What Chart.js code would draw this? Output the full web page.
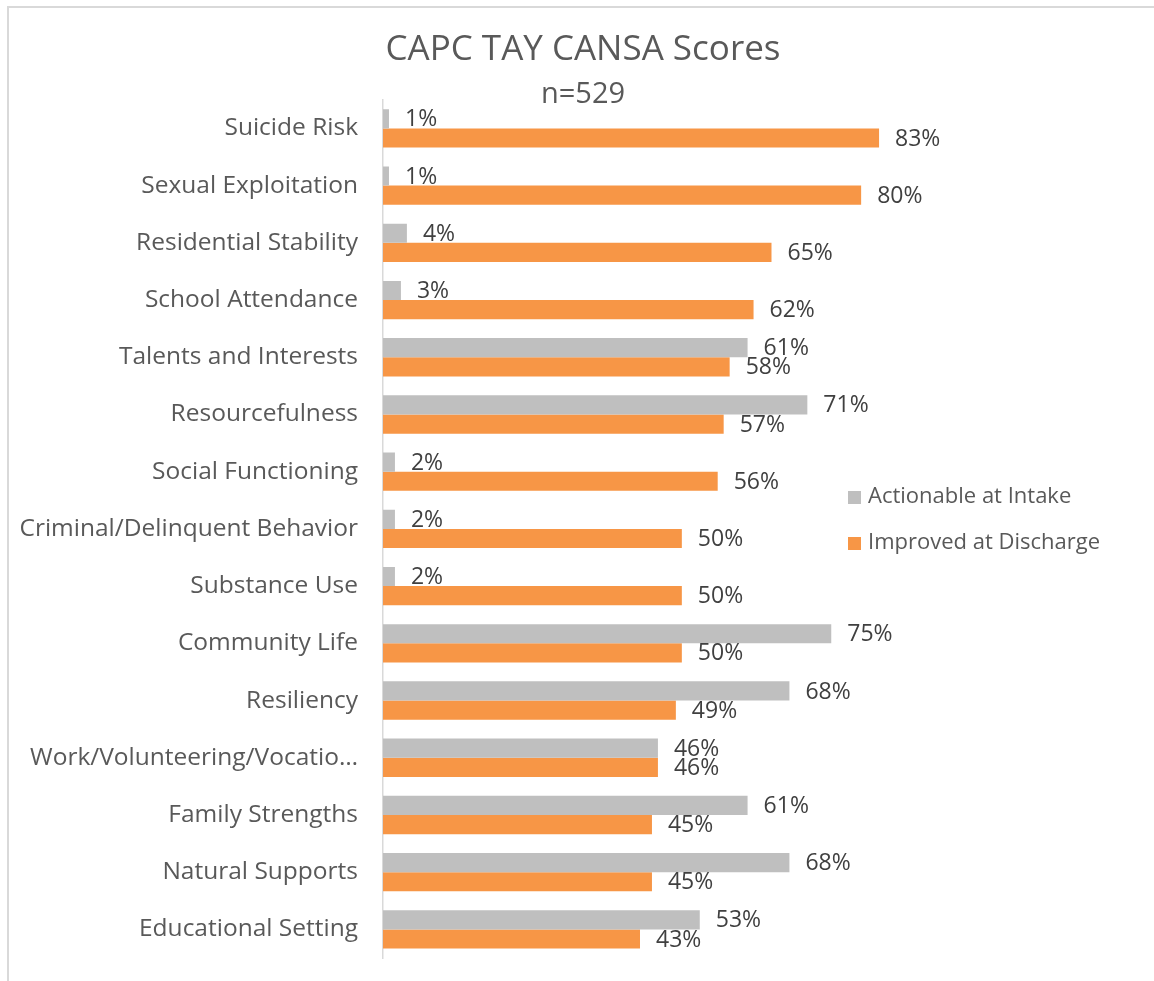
<!DOCTYPE html>
<html>
<head>
<meta charset="utf-8">
<script src="https://cdn.jsdelivr.net/npm/chart.js@4.4.1/dist/chart.umd.min.js"></script>
<style>
  html, body { margin: 0; padding: 0; background: #fff; overflow: hidden; }
  #wrap { position: relative; width: 1154px; height: 981px; overflow: hidden; }
  #frame { position: absolute; left: 7px; top: 6px; right: -4px; bottom: -4px; border-left: 2px solid #d9d9d9; border-top: 2px solid #d9d9d9; }
  canvas { position: absolute; left: 0; top: 0; }
</style>
</head>
<body>
<div id="wrap">
  <div id="frame"></div>
  <canvas id="cansaChart" width="1154" height="981"></canvas>
</div>
<script>
const categories = [
  'Suicide Risk', 'Sexual Exploitation', 'Residential Stability', 'School Attendance',
  'Talents and Interests', 'Resourcefulness', 'Social Functioning',
  'Criminal/Delinquent Behavior', 'Substance Use', 'Community Life', 'Resiliency',
  'Work/Volunteering/Vocatio\u2026', 'Family Strengths', 'Natural Supports', 'Educational Setting'
];
const actionableAtIntake = [1, 1, 4, 3, 61, 71, 2, 2, 2, 75, 68, 46, 61, 68, 53];
const improvedAtDischarge = [83, 80, 65, 62, 58, 57, 56, 50, 50, 50, 49, 46, 45, 45, 43];
const seriesNames = ['Actionable at Intake', 'Improved at Discharge'];

const FONT = '"Open Sans", "Liberation Sans", sans-serif';

// value labels at the end of each bar
const barLabels = {
  id: 'barLabels',
  afterDatasetsDraw(chart) {
    const ctx = chart.ctx;
    ctx.save();
    ctx.font = '23px ' + FONT;
    ctx.fillStyle = '#404040';
    ctx.textAlign = 'left';
    ctx.textBaseline = 'middle';
    chart.data.datasets.forEach((ds, i) => {
      chart.getDatasetMeta(i).data.forEach((bar, j) => {
        ctx.fillText(ds.data[j] + '%', bar.x + 16, bar.y + 1);
      });
    });
    ctx.restore();
  }
};

// legend placed inside the plot, right side
const sideLegend = {
  id: 'sideLegend',
  afterDraw(chart) {
    const ctx = chart.ctx;
    ctx.save();
    ctx.font = '22px ' + FONT;
    ctx.textBaseline = 'middle';
    chart.data.datasets.forEach((ds, i) => {
      const y = 497 + i * 46;
      ctx.fillStyle = ds.backgroundColor;
      ctx.fillRect(848, y - 6, 13, 13);
      ctx.fillStyle = '#595959';
      ctx.fillText(ds.label, 868, y);
    });
    ctx.restore();
  }
};

new Chart(document.getElementById('cansaChart'), {
  type: 'bar',
  data: {
    labels: categories,
    datasets: [
      { label: seriesNames[0], data: actionableAtIntake, backgroundColor: '#BFBFBF' },
      { label: seriesNames[1], data: improvedAtDischarge, backgroundColor: '#F79646' }
    ]
  },
  options: {
    indexAxis: 'y',
    responsive: false,
    animation: false,
    layout: { padding: { left: 12, right: 0, top: 0, bottom: 23 } },
    datasets: { bar: { categoryPercentage: 0.67, barPercentage: 1.0 } },
    scales: {
      x: { display: false, min: 0, max: 129 },
      y: {
        grid: { display: false, drawTicks: false },
        border: { display: true, color: '#d9d9d9', width: 1.5 },
        ticks: { color: '#595959', font: { family: FONT, size: 24.5 }, padding: 25 },
        afterFit(scale) {
          scale.width = 371;
          scale.paddingTop = 0;
          scale.paddingBottom = 0;
        }
      }
    },
    plugins: {
      legend: { display: false },
      tooltip: { enabled: false },
      title: {
        display: true,
        text: 'CAPC TAY CANSA Scores',
        color: '#595959',
        font: { family: FONT, size: 35, weight: 'normal' },
        padding: { top: 29, bottom: 0 }
      },
      subtitle: {
        display: true,
        text: 'n=529',
        color: '#595959',
        font: { family: FONT, size: 29, weight: 'normal' },
        padding: { top: 6, bottom: -12 }
      }
    }
  },
  plugins: [barLabels, sideLegend]
});
</script>
</body>
</html>
